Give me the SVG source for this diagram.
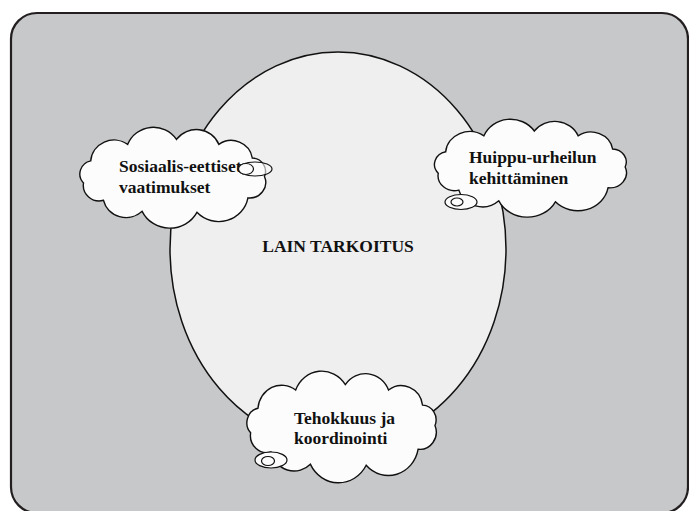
<svg xmlns="http://www.w3.org/2000/svg" width="689" height="511" viewBox="0 0 689 511">
  <style>
    .frame { fill: #c7c8c9; stroke: #231f20; stroke-width: 2.2; }
    .core { fill: #efefef; stroke: #111; stroke-width: 1.5; }
    .cloud { fill: #fcfcfc; stroke: #111; stroke-width: 1.4; }
    .bead { fill: #fcfcfc; stroke: #111; stroke-width: 1.2; }
    .lbl { font-family: "Liberation Serif", "Times New Roman", serif; font-weight: bold; font-size: 17.5px; fill: #111; }
  </style>
  <defs>
    <!-- scalloped cloud outline in a 200x100 working box -->
    <path id="cloudShape" vector-effect="non-scaling-stroke"
      d="M15.3,56.3 A13,13 0 0 1 22.1,34.8 A22,22 0 0 1 57,18.8 A26,26 0 0 1 103,14 A23,23 0 0 1 143,18.8 A20,20 0 0 1 174.5,32 A13,13 0 0 1 186,50 A15,15 0 0 1 170.4,70.7 A28,28 0 0 1 122.3,84.8 A29,29 0 0 1 70.6,83.8 A22,22 0 0 1 34.1,73.1 A15,15 0 0 1 15.3,56.3 Z"/>
  </defs>

  <!-- background panel -->
  <rect class="frame" x="11" y="13" width="677" height="500" rx="26" ry="26"/>

  <!-- central ellipse -->
  <g id="purpose">
    <ellipse class="core" cx="338" cy="249" rx="168" ry="197"/>
    <text class="lbl" x="338" y="252" text-anchor="middle">LAIN TARKOITUS</text>
  </g>

  <!-- thought clouds -->
  <g id="social">
    <use href="#cloudShape" class="cloud" transform="translate(67.3,125) scale(1.06,1.03)"/>
    <text class="lbl" x="119" y="172">Sosiaalis-eettiset</text>
    <text class="lbl" x="119" y="193">vaatimukset</text>
    <ellipse class="bead" cx="255" cy="169" rx="17" ry="7" fill-opacity="0.6"/>
    <ellipse class="bead" cx="246" cy="169" rx="7.5" ry="5.5" fill="none"/>
  </g>

  <g id="elite">
    <use href="#cloudShape" class="cloud" transform="translate(421.5,117) scale(1.095,1.0)"/>
    <text class="lbl" x="469" y="163">Huippu-urheilun</text>
    <text class="lbl" x="469" y="184">kehittäminen</text>
    <ellipse class="bead" cx="461" cy="202" rx="16" ry="7.5"/>
    <ellipse class="bead" cx="457" cy="202" rx="6" ry="4"/>
  </g>

  <g id="efficiency">
    <use href="#cloudShape" class="cloud" transform="translate(234.1,368.6) scale(1.08,1.14)"/>
    <text class="lbl" x="294" y="424">Tehokkuus ja</text>
    <text class="lbl" x="294" y="444">koordinointi</text>
    <ellipse class="bead" cx="271" cy="460" rx="16" ry="8"/>
    <ellipse class="bead" cx="268" cy="461" rx="6.5" ry="4.5"/>
  </g>

  <g id="connectors"/>
</svg>
